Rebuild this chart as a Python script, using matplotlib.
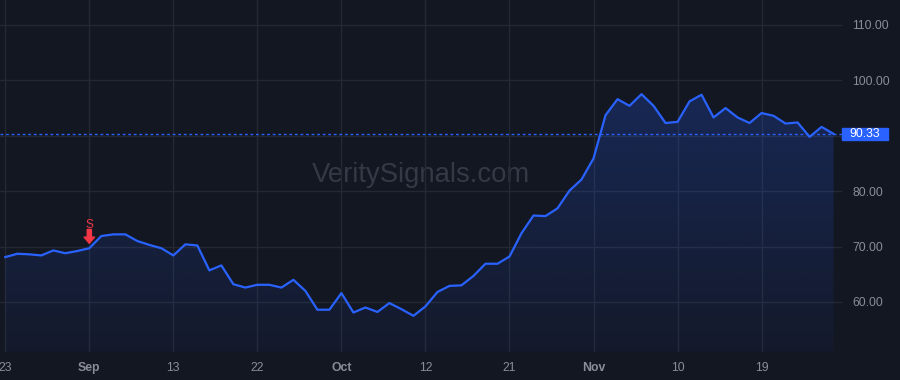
import numpy as np
import matplotlib.pyplot as plt
from matplotlib.patches import Rectangle
import matplotlib.transforms as mtransforms

# daily closes (one per bar)
prices = [68.1, 68.7, 68.6, 68.4, 69.3, 68.8, 69.2, 69.7, 71.9, 72.2,
          72.2, 71.0, 70.3, 69.7, 68.4, 70.4, 70.2, 65.7, 66.6, 63.2,
          62.6, 63.1, 63.1, 62.6, 64.0, 62.0, 58.6, 58.6, 61.6, 58.1,
          59.0, 58.2, 59.8, 58.7, 57.5, 59.2, 61.8, 62.9, 63.0, 64.7,
          66.9, 66.9, 68.2, 72.4, 75.6, 75.5, 76.9, 80.1, 82.1, 85.9,
          93.7, 96.6, 95.4, 97.5, 95.4, 92.3, 92.5, 96.2, 97.4, 93.3,
          95.0, 93.3, 92.3, 94.1, 93.6, 92.2, 92.4, 89.8, 91.6, 90.33]
tick_pos = [0, 7, 14, 21, 28, 35, 42, 49, 56, 63]
tick_labels = ["23", "Sep", "13", "22", "Oct", "12", "21", "Nov", "10", "19"]
month_names = ["Sep", "Oct", "Nov"]
y_ticks = [60, 70, 80, 90, 100, 110]
last_price = 90.33
signal_idx = 7
signal_label = "S"
watermark = "VeritySignals.com"

bg = "#131722"
grid_c = "#242833"
line_c = "#2962ff"
text_c = "#8a8d96"
red = "#f23645"
fam = ['Liberation Sans', 'DejaVu Sans']

plt.rcParams['font.family'] = fam

fig = plt.figure(figsize=(9, 3.8), dpi=100, facecolor=bg)
ax = fig.add_axes([0, 28 / 380, 842 / 900, 352 / 380], facecolor=bg)

x = np.arange(len(prices))
ymin, ymax = 50.97, 114.5

# gradient fill under the line
poly = ax.fill_between(x, prices, ymin, color="none", lw=0)
grad = np.linspace(0.23, 0.04, 256).reshape(-1, 1)
rgba = np.zeros((256, 1, 4))
rgba[..., 0] = 41 / 255
rgba[..., 1] = 98 / 255
rgba[..., 2] = 1.0
rgba[..., 3] = grad
img = ax.imshow(rgba, aspect="auto", extent=[x[0], x[-1], ymin, max(prices)],
                origin="upper", zorder=1)
img.set_clip_path(poly.get_paths()[0], transform=ax.transData)
ax.set_xlim(-0.44, 69.7)
ax.set_ylim(ymin, ymax)

ax.plot(x, prices, color=line_c, lw=1.6, zorder=3, solid_joinstyle="round")

# last price dotted line + label
ax.axhline(last_price, color=line_c, lw=1, ls=(0, (2, 2)), zorder=2)
trans = mtransforms.blended_transform_factory(ax.transAxes, ax.transData)
px_per_unit = 352 / (ymax - ymin)
box_h = 12.7 / px_per_unit
ax.add_patch(Rectangle((1.0, last_price - box_h / 2), 46 / 842, box_h,
                       transform=trans, color=line_c, clip_on=False, zorder=5))
ax.text(1.0 + 23 / 842, last_price, f"{last_price:.2f}", transform=trans,
        ha="center", va="center", color="white", fontsize=8.8, zorder=6,
        clip_on=False, family=fam)

# sell signal marker
ax.annotate("", xy=(signal_idx, prices[signal_idx]), xytext=(0, 13.5),
            textcoords="offset points",
            arrowprops=dict(arrowstyle="simple,head_width=0.75,head_length=0.45,tail_width=0.3",
                            color=red, shrinkA=0, shrinkB=3.5), zorder=4)
ax.annotate(signal_label, xy=(signal_idx, prices[signal_idx]), xytext=(0, 16.5),
            textcoords="offset points", ha="center", va="center",
            color=red, fontsize=8.6, zorder=4, family=fam)

# watermark
ax.text(0.5, 0.483, watermark, transform=ax.transAxes, ha="center",
        va="baseline", fontsize=19.8, color="#353945", zorder=0.5, family=fam)

# axes styling
for s in ax.spines.values():
    s.set_visible(False)
ax.set_xticks(tick_pos)
ax.set_xticklabels(tick_labels)
for lab in ax.get_xticklabels():
    if lab.get_text() in month_names:
        lab.set_fontweight("bold")
ax.set_yticks(y_ticks)
ax.set_yticklabels(["" if v == 90 else f"{v:.2f}" for v in y_ticks])
ax.yaxis.tick_right()
ax.tick_params(axis="both", length=0, colors=text_c, labelsize=8.8)
ax.tick_params(axis="x", pad=7)
ax.tick_params(axis="y", pad=7.5)
ax.grid(True, color=grid_c, lw=1, zorder=0)
ax.set_axisbelow(True)

fig.savefig("out.png", dpi=100, facecolor=bg)
